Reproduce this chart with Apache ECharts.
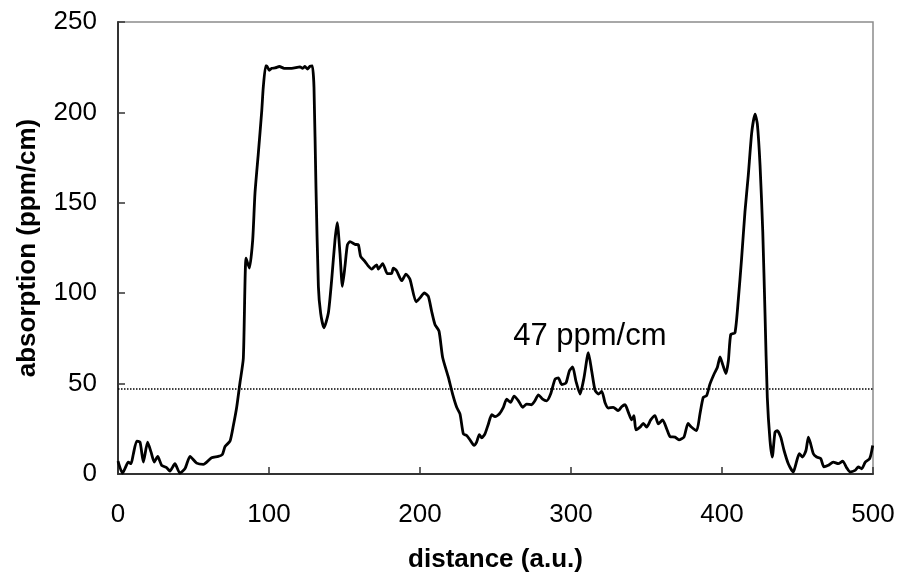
<!DOCTYPE html>
<html>
<head>
<meta charset="utf-8">
<script src="https://cdn.jsdelivr.net/npm/echarts@6/dist/echarts.min.js"></script>
<style>
  html, body { margin: 0; padding: 0; background: #fff; }
  #chart { width: 902px; height: 578px; }
</style>
</head>
<body>
<div id="chart"></div>
<script>
// distance (a.u.) and absorption (ppm/cm)
var distance = [
  0, 2.9, 4.6, 6.8, 8.6, 10.1, 12.4, 14.6, 16.8, 19.6, 21.9, 24, 26.3, 28.9, 32.2, 34.4, 37.7, 41, 44.4, 47.7,
  52.1, 56.5, 62, 66.4, 69.1, 70.9, 74.2, 76.4, 78.6, 80.8, 83, 84.8, 87, 89.2, 90.7, 92.9, 95.2, 96.2, 97.8, 98.5,
  100.2, 101.8, 104, 106.9, 110, 115, 120.5, 122.3, 123.8, 125.4, 127.2, 128.7, 129.8, 131.1, 132.7, 134.2, 136.4, 139.3, 141.5, 143.7,
  145.2, 147, 148.6, 150.3, 151.9, 153.6, 157, 159.2, 160.7, 163.6, 165.8, 168, 170.2, 171.3, 172.4, 175.3, 178.4, 181.3, 182.3, 184.5,
  187.9, 190.7, 193.4, 197.4, 200, 202.9, 205.5, 207.7, 209.9, 212.6, 215, 218.8, 221.6, 224.3, 226.5, 228.7, 230.9, 233.1, 235.8, 237.5,
  239.3, 240.9, 243, 245.3, 247.5, 249.7, 252.5, 255.2, 257.4, 260, 262.3, 265.2, 268, 270.6, 273.9, 276.1, 278.4, 281.2, 283.9, 286.5,
  289.4, 291.6, 293.8, 296.7, 298.9, 301.1, 303.3, 306, 308.6, 311.5, 313.7, 315.9, 318.1, 320.4, 322.5, 324.7, 328, 331.3, 333.5, 335.8,
  338, 340.2, 341.7, 343, 345.7, 347.9, 350.1, 352.8, 355.6, 357.8, 360.7, 363.4, 365.6, 368.9, 371.5, 374.8, 377.5, 379.7, 383.2, 385.4,
  387.6, 389.8, 392, 394.7, 396.9, 398.7, 400.4, 402.6, 404.2, 405.8, 408.6, 410.8, 413, 415.2, 417.4, 419.7, 421.9, 423.4, 425.2, 427,
  428.5, 430, 431.8, 433.3, 435.1, 436.6, 438.9, 441.1, 443.9, 447.2, 449, 451.2, 453.4, 455.6, 457.2, 458.7, 460.5, 462.7, 465.4, 467.5,
  470.4, 473.7, 477, 479.9, 482.6, 484.8, 488.1, 490.3, 492.5, 494.9, 497.8, 499.8
];
var absorption = [
  7.1, 0.5, 3, 6.6, 5.7, 10.8, 18.2, 17.6, 6.6, 17.6, 12.1, 6.6, 9.7, 4.8, 3.5, 1.6, 5.7, 0.5, 3, 9.7,
  6, 5.3, 9, 9.7, 10.8, 15.2, 18.2, 26.8, 36.9, 50.6, 64, 119.4, 113.9, 129.4, 155.1, 177.1, 200.9, 213.8, 225.7, 225.7,
  223.3, 224.4, 224.6, 225.4, 224.4, 224.4, 225.2, 224.3, 225.4, 224, 225.5, 225.7, 213.8, 158.8, 103.8, 89, 80.9, 89, 107.4, 129.4,
  139, 122.1, 103.8, 114.8, 126.7, 128.5, 127, 126.7, 120.3, 117.5, 115, 113.3, 115, 115.7, 113.3, 116.4, 110.8, 111.1, 113.9, 112.4,
  106.9, 110.6, 107.6, 95.2, 97.4, 100.1, 98.3, 90, 82.7, 79, 64.4, 53.4, 44.2, 36.9, 33.2, 22.2, 21.3, 18.9, 15.8, 17.6,
  21.8, 20, 22.2, 27.7, 32.8, 31.7, 33.2, 36.9, 41.4, 39.6, 43.1, 40.5, 36.9, 38.7, 38.3, 40.5, 43.8, 41.4, 40.5, 44.2,
  52.4, 53.2, 49.5, 50.4, 57, 59.2, 51.3, 44.2, 53.2, 67.1, 57, 46.4, 44.2, 45.7, 39.6, 36.5, 36.9, 35, 37.2, 38.3,
  34.1, 29.9, 32.3, 24.4, 25.9, 28, 25.9, 29.9, 32.3, 27.7, 29.9, 24.9, 20.7, 20.4, 18.9, 20.4, 28, 26, 24, 33.2,
  42.4, 43.3, 49.7, 55.2, 58.9, 64.7, 60.7, 55.6, 62.5, 77.2, 78.1, 96.4, 119.4, 145, 165.2, 189, 199.1, 193.6, 170.7, 134,
  88.2, 42.4, 18.5, 9.4, 23.1, 24, 20.4, 13, 5.7, 1.1, 5.7, 11.2, 9.4, 13, 20.4, 16.7, 11.2, 9.4, 8.5, 3.9,
  4.8, 6.6, 5.7, 7.1, 3.4, 1.1, 2, 3.9, 2.9, 6.6, 8.5, 15.8
];
var threshold = 47;
var thresholdLabel = '47 ppm/cm';
var labelAt = [312.5, 76];

var chart = echarts.init(document.getElementById('chart'));
var font = 'Liberation Sans, Arial, sans-serif';

chart.setOption({
  animation: false,
  backgroundColor: '#fff',
  grid: {
    left: 118, right: 29, top: 22, bottom: 101,
    show: true,
    borderColor: '#8c8c8c',
    borderWidth: 1.5
  },
  xAxis: {
    type: 'value',
    min: 0, max: 500, interval: 100,
    name: 'distance (a.u.)',
    nameLocation: 'middle',
    nameGap: 73,
    nameTextStyle: { fontFamily: font, fontSize: 26, fontWeight: 'bold', color: '#000' },
    axisLine: { show: true, onZero: false, lineStyle: { color: '#333', width: 2 } },
    axisTick: { show: true, inside: true, length: 7, lineStyle: { color: '#333', width: 1.5 } },
    axisLabel: { fontFamily: font, fontSize: 26, color: '#000', margin: 28 },
    splitLine: { show: false }
  },
  yAxis: {
    type: 'value',
    min: 0, max: 250, interval: 50,
    name: 'absorption (ppm/cm)',
    nameLocation: 'middle',
    nameGap: 77,
    nameTextStyle: { fontFamily: font, fontSize: 26, fontWeight: 'bold', color: '#000' },
    axisLine: { show: true, onZero: false, lineStyle: { color: '#333', width: 2 } },
    axisTick: { show: true, inside: true, length: 7, lineStyle: { color: '#333', width: 1.5 } },
    axisLabel: { fontFamily: font, fontSize: 26, color: '#000', margin: 21 },
    splitLine: { show: false }
  },
  series: [
    {
      type: 'line',
      data: distance.map(function (d, i) { return [d, absorption[i]]; }),
      showSymbol: false,
      smooth: 0.2,
      lineStyle: { color: '#000', width: 2.8 },
      markLine: {
        silent: true,
        symbol: 'none',
        label: { show: false },
        lineStyle: { color: '#000', type: 'dotted', width: 1.5 },
        data: [{ yAxis: threshold }]
      },
      markPoint: {
        silent: true,
        symbol: 'circle',
        symbolSize: 1,
        itemStyle: { color: 'rgba(0,0,0,0)' },
        label: {
          show: true,
          position: 'inside',
          formatter: thresholdLabel,
          fontFamily: font,
          fontSize: 31,
          color: '#000'
        },
        data: [{ coord: labelAt }]
      }
    }
  ]
});
</script>
</body>
</html>
